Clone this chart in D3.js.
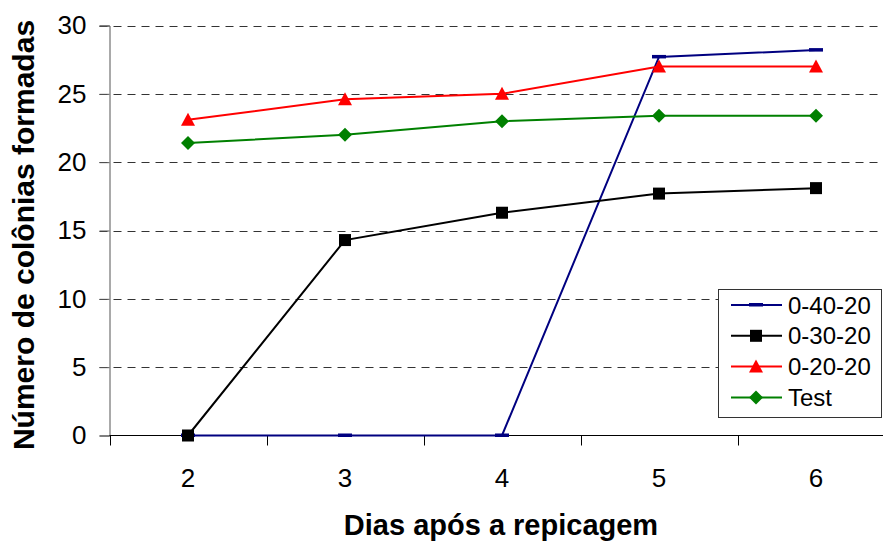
<!DOCTYPE html>
<html><head><meta charset="utf-8">
<script src="https://cdn.jsdelivr.net/npm/d3@7"></script>
<style>body{margin:0;background:#fff;}svg{display:block;font-family:Arial,"Liberation Sans",sans-serif;}</style>
</head><body>
<svg id="c" width="883" height="542"></svg>
<script>
const categories = ["2","3","4","5","6"];
const seriesNames = ["0-40-20","0-30-20","0-20-20","Test"];
const s04020 = [0, 0, 0, 27.7, 28.2];
const s03020 = [0, 14.3, 16.3, 17.7, 18.1];
const s02020 = [23.1, 24.6, 25.0, 27.0, 27.0];
const sTest = [21.4, 22.0, 23.0, 23.4, 23.4];
const yTicks = [0, 5, 10, 15, 20, 25, 30];
const colors = ["#000080", "#000000", "#FF0000", "#008000"];
const markers = ["dash", "square", "triangle", "diamond"];
const seriesVals = [s04020, s03020, s02020, sTest];

const FONT = "Arial, 'Liberation Sans', sans-serif";
const svg = d3.select("#c");
const L = 109.5, R = 894.5, T = 25.5, B = 435.5;
const x = d3.scaleBand().domain(categories).range([L, R]);
const y = d3.scaleLinear().domain([0, 30]).range([B, T]);

// gridlines
svg.append("g").selectAll("line").data(yTicks.filter(d => d > 0)).join("line")
  .attr("x1", L - 10).attr("x2", 883)
  .attr("y1", d => Math.round(y(d)) + 0.5).attr("y2", d => Math.round(y(d)) + 0.5)
  .attr("stroke", "#333").attr("stroke-width", 1).attr("stroke-dasharray", "8,6");

// y axis
const ya = svg.append("g").attr("transform", `translate(${L},0)`)
  .call(d3.axisLeft(y).tickValues(yTicks).tickSize(10).tickPadding(13));
ya.select(".domain").attr("stroke", "#555");
ya.selectAll(".tick line").attr("stroke", "#555");
ya.selectAll("text").attr("font-size", 26).attr("fill", "#000").attr("font-family", FONT);

// x axis
const xa = svg.append("g").attr("transform", `translate(0,${B})`)
  .call(d3.axisBottom(x).tickSize(0).tickPadding(33));
xa.select(".domain").attr("stroke", "#000").attr("d", `M${L},0H883`);
xa.selectAll("text").attr("font-size", 26).attr("fill", "#000").attr("font-family", FONT);
// x band ticks
const bounds = [0,1,2,3,4,5].map(i => L + i * x.step());
svg.append("g").selectAll("line").data(bounds).join("line")
  .attr("x1", d => Math.round(d) + 0.5).attr("x2", d => Math.round(d) + 0.5)
  .attr("y1", B).attr("y2", B + 10).attr("stroke", "#000");

const cx = c => x(c) + x.bandwidth() / 2;

function drawMarker(g, type, color) {
  if (type === "dash") g.append("rect").attr("x", -7).attr("y", -2).attr("width", 14).attr("height", 3.5).attr("fill", color);
  else if (type === "square") g.append("rect").attr("x", -6).attr("y", -6).attr("width", 12).attr("height", 12).attr("fill", color);
  else if (type === "triangle") g.append("path").attr("d", "M0,-7L7,6L-7,6Z").attr("fill", color);
  else if (type === "diamond") g.append("path").attr("d", "M0,-7L7,0L0,7L-7,0Z").attr("fill", color);
}

const line = d3.line().x((d, i) => cx(categories[i])).y(d => y(d));
seriesVals.forEach((vals, si) => {
  svg.append("path").datum(vals).attr("d", line).attr("fill", "none")
    .attr("stroke", colors[si]).attr("stroke-width", 2);
});
seriesVals.forEach((vals, si) => {
  vals.forEach((v, i) => {
    const g = svg.append("g").attr("transform", `translate(${cx(categories[i])},${y(v)})`);
    drawMarker(g, markers[si], colors[si]);
  });
});

// legend
const lg = svg.append("g");
lg.append("rect").attr("x", 718.5).attr("y", 289.5).attr("width", 163).attr("height", 128)
  .attr("fill", "#fff").attr("stroke", "#333").attr("stroke-width", 1);
seriesNames.forEach((n, i) => {
  const yy = 305 + i * 30.8;
  lg.append("line").attr("x1", 731).attr("x2", 782).attr("y1", yy).attr("y2", yy)
    .attr("stroke", colors[i]).attr("stroke-width", 2);
  const g = lg.append("g").attr("transform", `translate(756,${yy})`);
  drawMarker(g, markers[i], colors[i]);
  lg.append("text").attr("x", 788).attr("y", yy).attr("dy", "0.36em")
    .attr("font-size", 24).attr("font-family", FONT).text(n);
});

// axis titles
svg.append("text").attr("x", 501).attr("y", 535).attr("text-anchor", "middle")
  .attr("font-size", 29).attr("font-weight", "bold").attr("font-family", FONT).text("Dias após a repicagem");
svg.append("text").attr("transform", "translate(33.5,235) rotate(-90)").attr("text-anchor", "middle")
  .attr("font-size", 30).attr("font-weight", "bold").attr("font-family", FONT).text("Número de colônias formadas");
</script>
</body></html>
